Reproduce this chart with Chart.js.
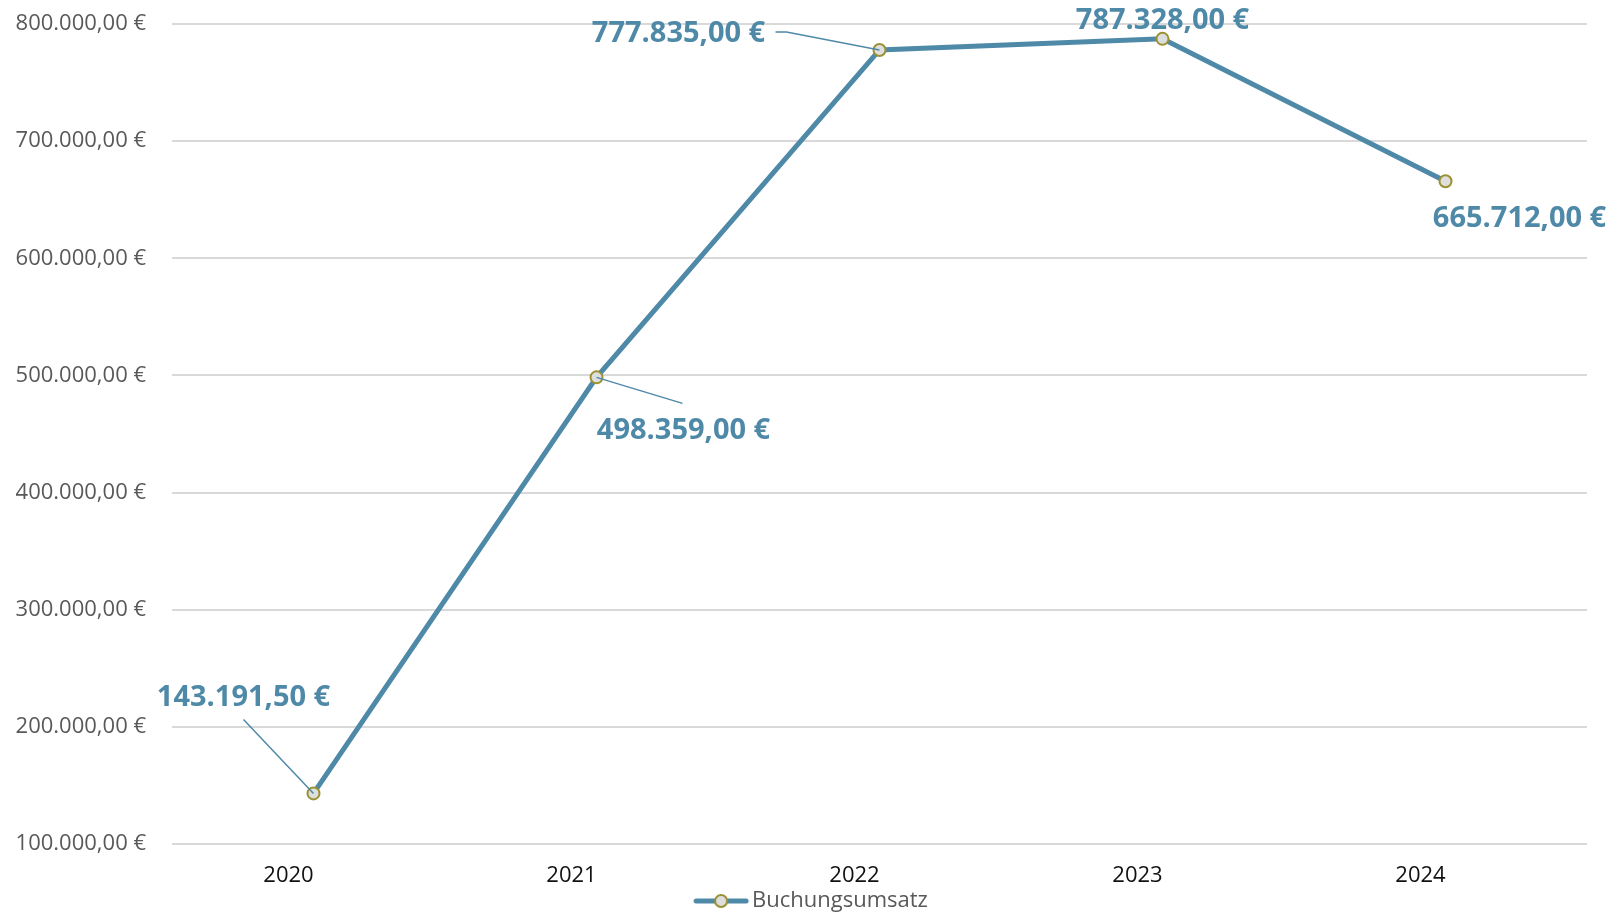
<!DOCTYPE html>
<html>
<head>
<meta charset="utf-8">
<script src="https://cdn.jsdelivr.net/npm/chart.js@4/dist/chart.umd.min.js"></script>
<style>
  html, body { margin: 0; padding: 0; background: #fff; overflow: hidden; }
  #wrap { width: 1612px; height: 914px; }
</style>
</head>
<body>
<div id="wrap"><canvas id="chart"></canvas></div>
<script>
// ==== Data ====
const years = ["2020", "2021", "2022", "2023", "2024"];
const revenue = [143191.5, 498359, 777835, 787328, 665712];
const seriesName = "Buchungsumsatz";
const yMin = 100000;
const yMax = 800000;
const yStep = 100000;

// where each value label sits relative to its point (px), plus leader line bends
const labelPlacement = [
  { dx: -70, dy: -96, leader: [[-70, -74]] },
  { dx: 87, dy: 53, leader: [[86, 26]] },
  { dx: -201, dy: -16, leader: [[-93, -18], [-104, -18]] },
  { dx: 0, dy: -18, leader: [] },
  { dx: 74, dy: 37, leader: [] }
];

// ==== Colours ====
const LINE = "#4f89a8";
const MARKER_FILL = "#dedede";
const MARKER_BORDER = "#9a9230";

Chart.defaults.font.family = "'Open Sans', sans-serif";

// 800000 -> "800.000,00 €"
function euro(v) {
  const [int, dec] = Math.abs(v).toFixed(2).split(".");
  return int.replace(/\B(?=(\d{3})+(?!\d))/g, ".") + "," + dec + " €";
}

// legend icon: line with a marker in the middle (drawn right of the canvas centre)
const legendIcon = document.createElement("canvas");
legendIcon.width = 140;
legendIcon.height = 16;
const lc = legendIcon.getContext("2d");
lc.strokeStyle = LINE;
lc.lineWidth = 5;
lc.lineCap = "round";
lc.beginPath(); lc.moveTo(66, 8); lc.lineTo(116, 8); lc.stroke();
lc.beginPath(); lc.arc(91, 8, 6, 0, Math.PI * 2);
lc.fillStyle = MARKER_FILL; lc.fill();
lc.lineWidth = 2; lc.strokeStyle = MARKER_BORDER; lc.stroke();

// ==== Value labels ====
const pointLabels = {
  id: "pointLabels",
  beforeInit(chart) {
    // keep the legend box compact
    const fit = chart.legend.fit;
    chart.legend.fit = function () {
      fit.call(this);
      this.height = 24;
    };
  },
  beforeDatasetsDraw(chart) {
    const ctx = chart.ctx;
    const meta = chart.getDatasetMeta(0);
    ctx.save();
    ctx.font = "bold 29px 'Open Sans', sans-serif";
    ctx.fillStyle = LINE;
    ctx.textAlign = "center";
    ctx.textBaseline = "middle";
    meta.data.forEach((pt, i) => {
      const p = labelPlacement[i];
      ctx.fillText(euro(revenue[i]), pt.x + p.dx, pt.y + p.dy);
    });
    ctx.restore();
  },
  afterDatasetsDraw(chart) {
    const ctx = chart.ctx;
    const meta = chart.getDatasetMeta(0);
    ctx.save();
    ctx.strokeStyle = LINE;
    ctx.lineWidth = 1.5;
    meta.data.forEach((pt, i) => {
      const p = labelPlacement[i];
      if (!p.leader.length) return;
      ctx.beginPath();
      ctx.moveTo(pt.x, pt.y);
      p.leader.forEach(([dx, dy]) => ctx.lineTo(pt.x + dx, pt.y + dy));
      ctx.stroke();
    });
    ctx.restore();
  }
};

// ==== Chart ====
new Chart(document.getElementById("chart"), {
  type: "line",
  data: {
    labels: years,
    datasets: [{
      label: seriesName,
      data: revenue,
      borderColor: LINE,
      borderWidth: 5,
      tension: 0,
      pointRadius: 6,
      pointBorderWidth: 2,
      pointBackgroundColor: MARKER_FILL,
      pointBorderColor: MARKER_BORDER
    }]
  },
  options: {
    responsive: true,
    maintainAspectRatio: false,
    animation: false,
    layout: { padding: { top: 24, right: 25, left: 0, bottom: 0 } },
    plugins: {
      tooltip: { enabled: false },
      legend: {
        position: "bottom",
        labels: {
          usePointStyle: true,
          pointStyleWidth: 82,
          color: "#595959",
          font: { size: 22 },
          padding: 0,
          generateLabels: chart => {
            const items = Chart.defaults.plugins.legend.labels.generateLabels(chart);
            items.forEach(it => { it.pointStyle = legendIcon; });
            return items;
          }
        }
      }
    },
    scales: {
      x: {
        offset: true,
        grid: { display: false, drawTicks: false },
        border: { display: false },
        ticks: {
          color: "#111",
          font: { size: 22 },
          padding: 19,
          labelOffset: -25,
          maxRotation: 0,
          autoSkip: false
        },
        afterFit: s => { s.height = 46; }
      },
      y: {
        min: yMin,
        max: yMax,
        border: { display: false },
        grid: { color: "#d9d9d9", lineWidth: 2, drawTicks: false },
        ticks: {
          stepSize: yStep,
          color: "#595959",
          font: { size: 22 },
          padding: 26,
          callback: v => euro(v)
        },
        afterFit: s => {
          s.width = 172;
          s.paddingTop = 0;
          s.paddingBottom = 0;
        }
      }
    }
  },
  plugins: [pointLabels]
});
</script>
</body>
</html>
